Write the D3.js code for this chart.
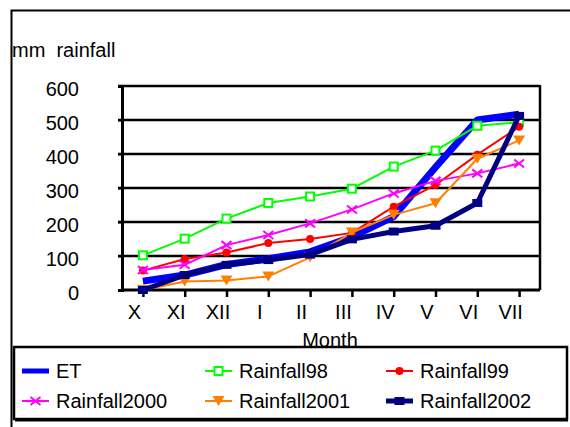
<!DOCTYPE html>
<html>
<head>
<meta charset="utf-8">
<script src="https://cdn.jsdelivr.net/npm/d3@7"></script>
<style>
  html, body { margin: 0; padding: 0; background: #fff; }
  svg { display: block; }
  text { font-family: "Liberation Sans", Arial, sans-serif; fill: #000; white-space: pre; }
</style>
</head>
<body>
<svg id="chart" width="570" height="427"></svg>
<script>
// Months of the hydrological year (October to July)
const months = ["X", "XI", "XII", "I", "II", "III", "IV", "V", "VI", "VII"];

// Cumulative amounts, mm
const et           = [26, 44, 75, 92, 112, 156, 216, 361, 500, 517];
const rainfall98   = [102, 151, 210, 256, 275, 298, 363, 410, 483, 493];
const rainfall99   = [57, 91, 110, 138, 150, 168, 245, 309, 398, 480];
const rainfall2000 = [59, 74, 132, 162, 196, 237, 284, 321, 343, 372];
const rainfall2001 = [0, 25, 28, 40, 96, 169, 221, 255, 386, 440];
const rainfall2002 = [0, 44, 74, 88, 104, 149, 172, 189, 256, 512];

const yTicks = [0, 100, 200, 300, 400, 500, 600];

const series = [
  { name: "ET",           values: et,           color: "#0000ff", width: 7,   marker: "none" },
  { name: "Rainfall98",   values: rainfall98,   color: "#00ff00", width: 2,   marker: "square" },
  { name: "Rainfall99",   values: rainfall99,   color: "#ff0000", width: 2,   marker: "circle" },
  { name: "Rainfall2000", values: rainfall2000, color: "#ff00ff", width: 2,   marker: "cross" },
  { name: "Rainfall2001", values: rainfall2001, color: "#ff8000", width: 2,   marker: "triangle" },
  { name: "Rainfall2002", values: rainfall2002, color: "#000080", width: 5,   marker: "block" }
];

const FS = 20;
const svg = d3.select("#chart");
const plot = { left: 122, right: 540, top: 86, bottom: 290 };

// outer chart frame (left and top edges)
svg.append("path")
  .attr("d", "M11.5,427 V10.5 H570")
  .attr("fill", "none").attr("stroke", "#000").attr("stroke-width", 2);

const x = d3.scalePoint().domain(months).range([plot.left, plot.right]).padding(0.5);
const y = d3.scaleLinear().domain([0, 600]).range([plot.bottom, plot.top]);

// horizontal gridlines
svg.append("g").selectAll("line").data(yTicks.filter(v => v > 0)).join("line")
  .attr("x1", plot.left - 4).attr("x2", plot.right)
  .attr("y1", d => y(d)).attr("y2", d => y(d))
  .attr("stroke", "#000").attr("stroke-width", 2.5);

// plot border: right edge
svg.append("line")
  .attr("x1", plot.right).attr("x2", plot.right)
  .attr("y1", plot.top - 1).attr("y2", plot.bottom)
  .attr("stroke", "#000").attr("stroke-width", 2.5);

// y axis
const yAxis = d3.axisLeft(y).tickValues(yTicks).tickSize(4).tickPadding(40);
const gy = svg.append("g").attr("transform", `translate(${plot.left},0)`).call(yAxis);
gy.select(".domain").attr("stroke-width", 3);
gy.selectAll(".tick line").attr("stroke-width", 2);
gy.selectAll(".tick text")
  .attr("font-size", FS).attr("font-family", "Liberation Sans, Arial, sans-serif")
  .attr("x", -43).attr("dy", "0.45em");

// x axis
const xAxis = d3.axisBottom(x).tickSize(7).tickSizeOuter(0).tickPadding(6);
const gx = svg.append("g").attr("transform", `translate(0,${plot.bottom})`).call(xAxis);
gx.select(".domain").attr("stroke-width", 3).attr("d", `M${plot.left},0H${plot.right}`);
gx.selectAll(".tick line").attr("stroke-width", 2.5);
gx.selectAll(".tick text")
  .attr("font-size", FS).attr("font-family", "Liberation Sans, Arial, sans-serif")
  .attr("dx", -9).attr("dy", "0.8em");

// axis titles
svg.append("text").attr("x", 12).attr("y", 57).attr("font-size", FS).text("mm  rainfall");
svg.append("text").attr("x", 330).attr("y", 347).attr("font-size", FS)
  .attr("text-anchor", "middle").text("Month");

// markers
function drawMarker(g, type, color, cx, cy) {
  if (type === "square") {
    g.append("rect").attr("x", cx - 4).attr("y", cy - 4).attr("width", 8).attr("height", 8)
      .attr("fill", "#fff").attr("stroke", color).attr("stroke-width", 2);
  } else if (type === "circle") {
    g.append("circle").attr("cx", cx).attr("cy", cy).attr("r", 4).attr("fill", color);
  } else if (type === "cross") {
    g.append("path").attr("d", `M${cx-5},${cy-4}L${cx+5},${cy+4}M${cx-5},${cy+4}L${cx+5},${cy-4}`)
      .attr("stroke", color).attr("stroke-width", 2).attr("fill", "none");
  } else if (type === "triangle") {
    g.append("path").attr("d", `M${cx-6},${cy-5}L${cx+6},${cy-5}L${cx},${cy+5}Z`).attr("fill", color);
  } else if (type === "block") {
    g.append("rect").attr("x", cx - 5).attr("y", cy - 4).attr("width", 10).attr("height", 8)
      .attr("fill", color);
  }
}

const line = d3.line().x((d, i) => x(months[i])).y(d => y(d));

series.forEach(s => {
  const g = svg.append("g");
  g.append("path").datum(s.values)
    .attr("d", line).attr("fill", "none")
    .attr("stroke", s.color).attr("stroke-width", s.width)
    .attr("stroke-linejoin", "round");
  if (s.marker !== "none") {
    s.values.forEach((v, i) => drawMarker(g, s.marker, s.color, x(months[i]), y(v)));
  }
});

// legend
const lg = svg.append("g");
lg.append("rect").attr("x", 14).attr("y", 347).attr("width", 553).attr("height", 72)
  .attr("fill", "#fff").attr("stroke", "#000").attr("stroke-width", 2.5);
lg.append("line").attr("x1", 15).attr("x2", 568).attr("y1", 420.5).attr("y2", 420.5)
  .attr("stroke", "#000").attr("stroke-width", 2);

const colX = [22, 205, 386];
const rowY = [371, 401];
series.forEach((s, i) => {
  const lx = colX[i % 3], ly = rowY[Math.floor(i / 3)];
  const g = lg.append("g");
  g.append("line").attr("x1", lx).attr("x2", lx + 27).attr("y1", ly).attr("y2", ly)
    .attr("stroke", s.color).attr("stroke-width", s.name === "ET" ? 5 : s.width);
  if (s.marker !== "none") drawMarker(g, s.marker, s.color, lx + 13.5, ly);
  g.append("text").attr("x", lx + 34).attr("y", ly).attr("dy", "0.36em")
    .attr("font-size", FS).text(s.name);
});
</script>
</body>
</html>
